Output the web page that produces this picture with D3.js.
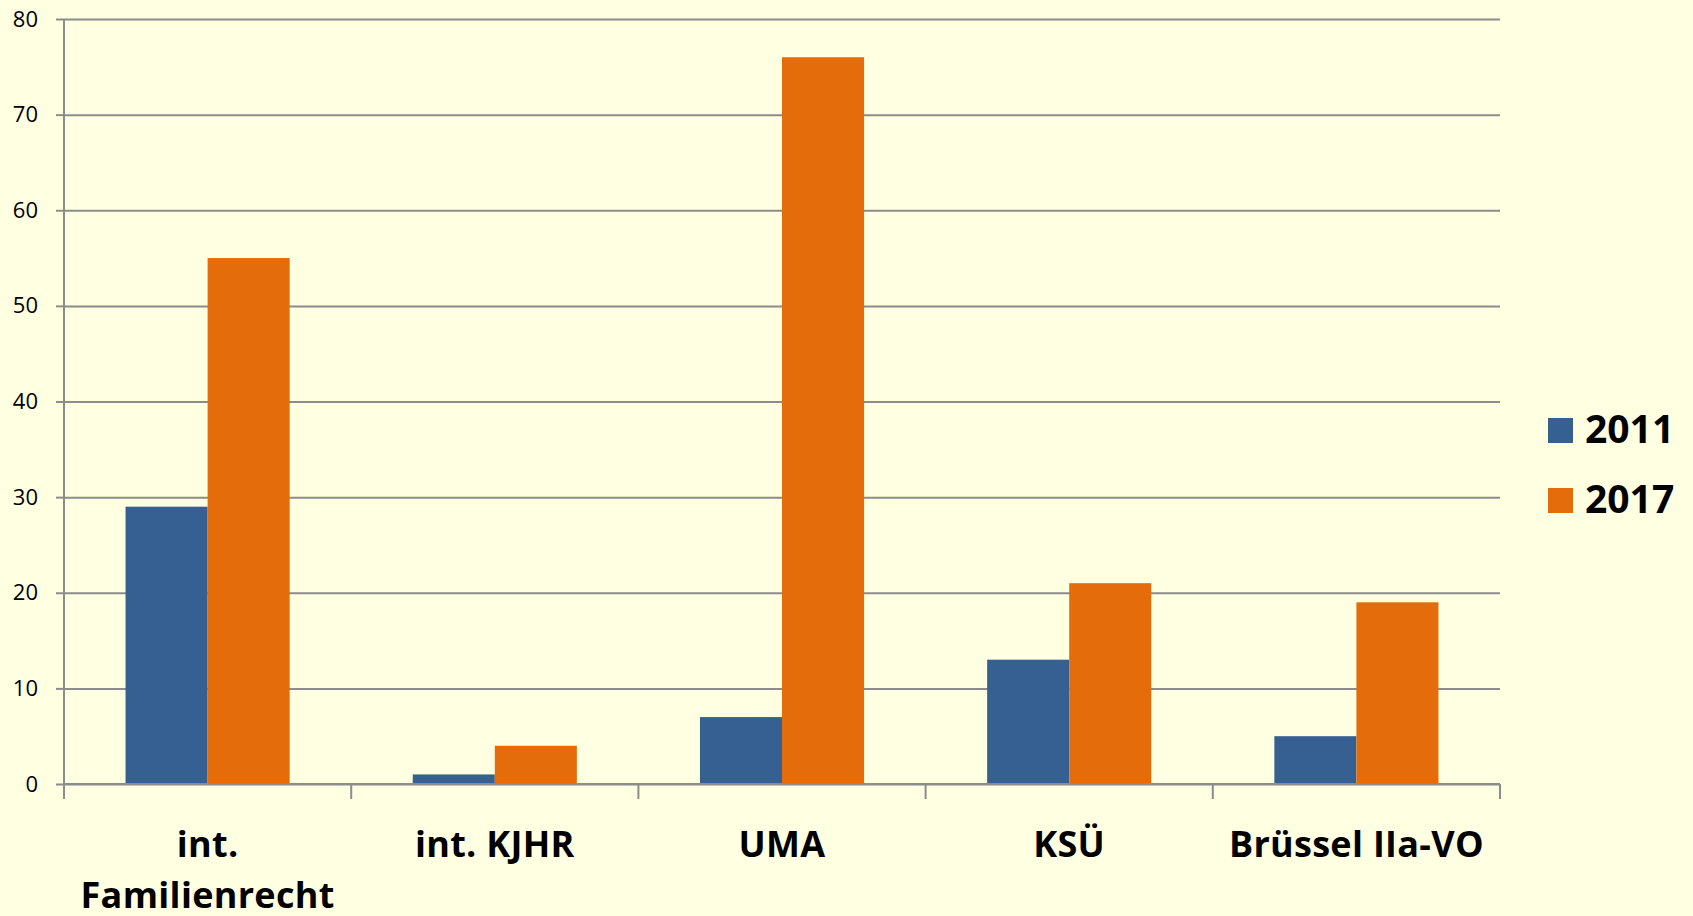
<!DOCTYPE html>
<html><head><meta charset="utf-8">
<script src="https://cdn.jsdelivr.net/npm/d3@7"></script>
<style>
html,body{margin:0;padding:0;background:#FFFFE1;}
svg{display:block;}
</style></head>
<body>
<svg id="chart" width="1693" height="916"></svg>
<script>
const categories = ["int. Familienrecht", "int. KJHR", "UMA", "KSÜ", "Brüssel IIa-VO"];
const categoryLines = [["int.", "Familienrecht"], ["int. KJHR"], ["UMA"], ["KSÜ"], ["Brüssel IIa-VO"]];
const seriesNames = ["2011", "2017"];
const values2011 = [29, 1, 7, 13, 5];
const values2017 = [55, 4, 76, 21, 19];
const yTicks = [0, 10, 20, 30, 40, 50, 60, 70, 80];
const colors = ["#376092", "#E46C0A"];

(function () {
const svg = d3.select("#chart");
const mLeft = 64, mRight = 1500, mTop = 19, mBottom = 784;
const font = "'Open Sans', 'Noto Sans', sans-serif";

const x = d3.scaleBand().domain(categories).range([mLeft, mRight]).paddingInner(0).paddingOuter(0);
const y = d3.scaleLinear().domain([0, 80]).range([mBottom, mTop]);
const xs = d3.scaleBand().domain(seriesNames).range([0, x.bandwidth()]).paddingInner(0).paddingOuter(0.75);

// gridlines
const gridAxis = d3.axisLeft(y).tickValues(yTicks).tickSize(-(mRight - mLeft)).tickFormat("");
const grid = svg.append("g").attr("transform", `translate(${mLeft},0)`).call(gridAxis);
grid.select(".domain").remove();
grid.selectAll("line").attr("stroke", "#8c8c8c").attr("stroke-width", 2);

// y axis with labels
const yAxis = d3.axisLeft(y).tickValues(yTicks).tickSize(8).tickPadding(18).tickFormat(d3.format("d"));
const ya = svg.append("g").attr("transform", `translate(${mLeft},0)`).call(yAxis);
ya.select(".domain").attr("stroke", "#8c8c8c").attr("stroke-width", 2).attr("d", `M0,${mTop}V${mBottom}`);
ya.selectAll("line").attr("stroke", "#8c8c8c").attr("stroke-width", 2);
ya.selectAll("text").attr("font-family", font).attr("font-size", 22).attr("fill", "#000");

// bars
const data = categories.map((c, i) => ({cat: c, vals: [values2011[i], values2017[i]]}));
const groups = svg.append("g").selectAll("g").data(data).join("g")
  .attr("transform", d => `translate(${x(d.cat)},0)`);
groups.selectAll("rect").data(d => d.vals.map((v, j) => ({s: seriesNames[j], v, j})))
  .join("rect")
  .attr("x", d => xs(d.s))
  .attr("width", xs.bandwidth())
  .attr("y", d => y(d.v))
  .attr("height", d => y(0) - y(d.v))
  .attr("fill", d => colors[d.j]);

// x axis
const xAxis = d3.axisBottom(x).tickSize(0).tickFormat("");
const xa = svg.append("g").attr("transform", `translate(0,${mBottom})`).call(xAxis);
xa.select(".domain").attr("stroke", "#8c8c8c").attr("stroke-width", 2).attr("d", `M${mLeft},0H${mRight}`);
const boundaries = categories.map(c => x(c)).concat([mRight]);
xa.selectAll(".bound").data(boundaries).join("line").attr("class", "bound")
  .attr("x1", d => d).attr("x2", d => d).attr("y1", 0).attr("y2", 15)
  .attr("stroke", "#8c8c8c").attr("stroke-width", 2);

// category labels
const lab = svg.append("g");
categories.forEach((c, i) => {
  const cx = x(c) + x.bandwidth() / 2;
  const t = lab.append("text")
    .attr("x", cx)
    .attr("y", 857)
    .attr("text-anchor", "middle")
    .attr("font-family", font).attr("font-weight", "bold").attr("font-size", 36)
    .attr("letter-spacing", 0.3)
    .attr("fill", "#000");
  categoryLines[i].forEach((ln, k) => {
    t.append("tspan").attr("x", cx).attr("dy", k === 0 ? 0 : 51).text(ln);
  });
});

// legend
const leg = svg.append("g");
seriesNames.forEach((s, i) => {
  const yy = 418 + i * 70;
  leg.append("rect").attr("x", 1548).attr("y", yy).attr("width", 25).attr("height", 25).attr("fill", colors[i]);
  leg.append("text").attr("x", 1585).attr("y", yy + 25)
    .attr("font-family", font).attr("font-weight", "bold").attr("font-size", 39).attr("fill", "#000").text(s);
});
})();
</script>
</body></html>
